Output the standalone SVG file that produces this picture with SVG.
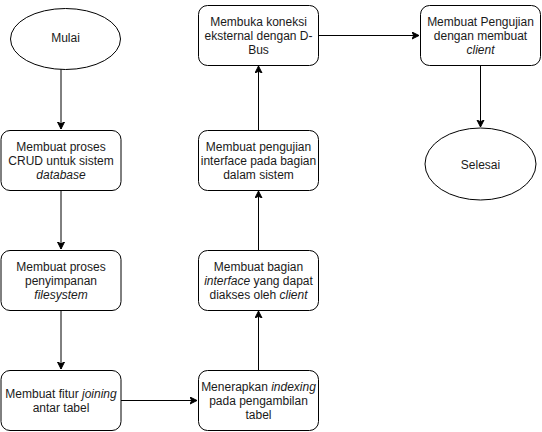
<svg xmlns="http://www.w3.org/2000/svg" width="542" height="432" viewBox="0 0 542 432">
<defs>
<marker id="arr" markerWidth="10" markerHeight="10" refX="7" refY="4" orient="auto" markerUnits="userSpaceOnUse">
<path d="M0,0.5 L7,4 L0,7.5 L1.75,4 Z" fill="#000" stroke="#000" stroke-width="1"/>
</marker>
</defs>
<style>
.n{fill:#fff;stroke:#000;stroke-width:1}
.t{font-family:"Liberation Sans",Arial,Helvetica,sans-serif;font-size:12px;fill:#1a1a1a;text-anchor:middle}
.e{fill:none;stroke:#000;stroke-width:1;marker-end:url(#arr)}
</style>
<rect width="542" height="432" fill="#fff"/>
<g id="connectors">
<path class="e" d="M61,69 L61,129"/>
<path class="e" d="M61,190 L61,249"/>
<path class="e" d="M61,310 L61,369"/>
<path class="e" d="M121,400.5 L197,400.5"/>
<path class="e" d="M258.5,370 L258.5,311"/>
<path class="e" d="M258.5,250 L258.5,191"/>
<path class="e" d="M258.5,130 L258.5,66"/>
<path class="e" d="M318,35.5 L419,35.5"/>
<path class="e" d="M480.5,65 L480.5,127"/>
</g>
<g id="mulai">
<ellipse class="n" cx="65.5" cy="39" rx="55" ry="30.5"/>
<text class="t" x="65.5" y="42">Mulai</text>
</g>
<g id="crud">
<rect class="n" x="1" y="130.5" width="120" height="60" rx="9"/>
<text class="t"><tspan x="61" y="151">Membuat proses</tspan><tspan x="61" y="165">CRUD untuk sistem</tspan><tspan x="61" y="179" font-style="italic">database</tspan></text>
</g>
<g id="filesystem">
<rect class="n" x="1" y="250.5" width="120" height="60" rx="9"/>
<text class="t"><tspan x="61" y="271">Membuat proses</tspan><tspan x="61" y="285">penyimpanan</tspan><tspan x="61" y="299" font-style="italic">filesystem</tspan></text>
</g>
<g id="joining">
<rect class="n" x="1" y="370.5" width="120" height="60" rx="9"/>
<text class="t"><tspan x="61" y="398">Membuat fitur <tspan font-style="italic">joining</tspan></tspan><tspan x="61" y="412">antar tabel</tspan></text>
</g>
<g id="indexing">
<rect class="n" x="198.5" y="370.5" width="120" height="60" rx="9"/>
<text class="t"><tspan x="258.5" y="391">Menerapkan <tspan font-style="italic">indexing</tspan></tspan><tspan x="258.5" y="405">pada pengambilan</tspan><tspan x="258.5" y="419">tabel</tspan></text>
</g>
<g id="interface">
<rect class="n" x="198.5" y="250.5" width="120" height="60" rx="9"/>
<text class="t"><tspan x="258.5" y="271">Membuat bagian</tspan><tspan x="258.5" y="285"><tspan font-style="italic">interface</tspan> yang dapat</tspan><tspan x="258.5" y="299">diakses oleh <tspan font-style="italic">client</tspan></tspan></text>
</g>
<g id="pengujian">
<rect class="n" x="198.5" y="130.5" width="120" height="60" rx="9"/>
<text class="t"><tspan x="258.5" y="151">Membuat pengujian</tspan><tspan x="258.5" y="165">interface pada bagian</tspan><tspan x="258.5" y="179">dalam sistem</tspan></text>
</g>
<g id="dbus">
<rect class="n" x="198.5" y="5.5" width="120" height="60" rx="9"/>
<text class="t"><tspan x="258.5" y="26">Membuka koneksi</tspan><tspan x="258.5" y="40">eksternal dengan D-</tspan><tspan x="258.5" y="54">Bus</tspan></text>
</g>
<g id="client">
<rect class="n" x="420.5" y="5.5" width="120" height="60" rx="9"/>
<text class="t"><tspan x="480.5" y="26">Membuat Pengujian</tspan><tspan x="480.5" y="40">dengan membuat</tspan><tspan x="480.5" y="54" font-style="italic">client</tspan></text>
</g>
<g id="selesai">
<ellipse class="n" cx="480.5" cy="164" rx="55.5" ry="36"/>
<text class="t" x="480.5" y="168.5">Selesai</text>
</g>
</svg>
